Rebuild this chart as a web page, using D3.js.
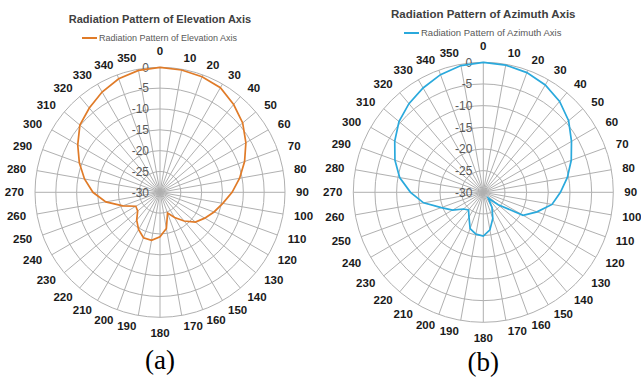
<!DOCTYPE html>
<html>
<head>
<meta charset="utf-8">
<script src="https://cdn.jsdelivr.net/npm/d3@7"></script>
<style>
  body { margin: 0; background: #fff; }
  svg { display: block; }
</style>
</head>
<body>
<div id="chart"></div>
<script>
// angle categories (degrees) and radial ticks (dB)
const angleLabels = [0, 10, 20, 30, 40, 50, 60, 70, 80, 90, 100, 110, 120, 130, 140, 150, 160, 170,
                     180, 190, 200, 210, 220, 230, 240, 250, 260, 270, 280, 290, 300, 310, 320, 330, 340, 350];
const ringTicks = [-30, -25, -20, -15, -10, -5, 0];

// one value per angle
const elevationGain = [0, -0.2, -0.5, -1.0, -2.5, -4.1, -6.2, -8.4, -10.6, -12.7, -14.7, -16.2,
                       -17.6, -18.9, -21.0, -23.0, -24.7, -21.2, -19.3, -18.3, -18.4, -19.7, -21.3, -23.0,
                       -23.3, -20.5, -16.8, -13.9, -11.6, -9.4, -7.2, -4.9, -3.6, -2.2, -1.0, -0.3];
const azimuthGain = [0, -0.2, -0.6, -1.4, -2.6, -4.3, -6.5, -8.4, -10.3, -12.2, -13.9, -16.8,
                     -19.4, -25.5, -28.2, -26.0, -23.6, -21.2, -19.9, -20.2, -21.1, -23.4, -24.7, -24.0,
                     -21.8, -19.7, -16.0, -13.2, -10.4, -8.3, -6.4, -4.6, -3.3, -2.2, -1.1, -0.3];

const width = 641, height = 378;

const svg = d3.select("#chart").append("svg")
    .attr("width", width)
    .attr("height", height);

svg.append("rect").attr("width", width).attr("height", height).attr("fill", "#fff");

function drawRadar(opts) {
    const { cx, cy, R, values, color, title, titleY, titleSize, legendX, legendY, legendSize, caption, captionY } = opts;

    const g = svg.append("g").attr("transform", `translate(${cx},${cy})`);

    const r = d3.scaleLinear().domain([-30, 0]).range([0, R]);
    const rad = d => d * Math.PI / 180;

    // rings
    g.selectAll(".ring")
        .data(ringTicks.filter(t => t > -30))
        .enter().append("circle")
        .attr("r", d => r(d))
        .attr("fill", "none")
        .attr("stroke", "#b0b0b0")
        .attr("stroke-width", 1);

    // spokes
    g.selectAll(".spoke")
        .data(angleLabels)
        .enter().append("line")
        .attr("x1", 0).attr("y1", 0)
        .attr("x2", d => Math.sin(rad(d)) * R)
        .attr("y2", d => -Math.cos(rad(d)) * R)
        .attr("stroke", "#b0b0b0")
        .attr("stroke-width", 1);

    // ring labels
    g.selectAll(".ringLabel")
        .data(ringTicks)
        .enter().append("text")
        .attr("x", -11)
        .attr("y", d => -r(d))
        .attr("dy", "0.35em")
        .attr("text-anchor", "end")
        .style("font-family", "Liberation Sans, Arial, sans-serif")
        .style("font-size", "12px")
        .style("fill", "#595959")
        .text(d => d);

    // angle labels
    const lr = R + 11;
    g.selectAll(".angleLabel")
        .data(angleLabels)
        .enter().append("text")
        .attr("x", d => Math.sin(rad(d)) * lr)
        .attr("y", d => -Math.cos(rad(d)) * lr)
        .attr("dy", d => d === 0 ? "-0.1em" : d === 180 ? "0.8em" : "0.35em")
        .attr("text-anchor", d => (d === 0 || d === 180) ? "middle" : d < 180 ? "start" : "end")
        .style("font-family", "Liberation Sans, Arial, sans-serif")
        .style("font-weight", "bold")
        .style("font-size", "11.5px")
        .style("fill", "#1a1a1a")
        .text(d => d);

    // pattern line
    const line = d3.lineRadial()
        .angle((d, i) => rad(angleLabels[i]))
        .radius(d => r(d))
        .curve(d3.curveLinearClosed);

    g.append("path")
        .datum(values)
        .attr("d", line)
        .attr("fill", "none")
        .attr("stroke", color)
        .attr("stroke-width", 1.7);

    // title
    svg.append("text")
        .attr("x", cx)
        .attr("y", titleY)
        .attr("text-anchor", "middle")
        .style("font-family", "Liberation Sans, Arial, sans-serif")
        .style("font-weight", "bold")
        .style("font-size", titleSize + "px")
        .style("fill", "#404040")
        .text(title);

    // legend
    svg.append("line")
        .attr("x1", legendX).attr("x2", legendX + 15)
        .attr("y1", legendY).attr("y2", legendY)
        .attr("stroke", color)
        .attr("stroke-width", 2);

    svg.append("text")
        .attr("x", legendX + 17)
        .attr("y", legendY)
        .attr("dy", "0.35em")
        .style("font-family", "Liberation Sans, Arial, sans-serif")
        .style("font-size", legendSize + "px")
        .style("fill", "#595959")
        .text(title);

    // caption
    svg.append("text")
        .attr("x", cx)
        .attr("y", captionY)
        .attr("text-anchor", "middle")
        .style("font-family", "Liberation Serif, Times New Roman, serif")
        .style("font-size", "27px")
        .style("fill", "#000")
        .text(caption);
}

drawRadar({
    cx: 160, cy: 192.3, R: 125,
    values: elevationGain,
    color: "#e07b28",
    title: "Radiation Pattern of Elevation Axis",
    titleY: 23, titleSize: 11,
    legendX: 82, legendY: 38, legendSize: 9,
    caption: "(a)", captionY: 369
});

drawRadar({
    cx: 483.3, cy: 192.3, R: 130,
    values: azimuthGain,
    color: "#2aa9dc",
    title: "Radiation Pattern of Azimuth Axis",
    titleY: 18, titleSize: 11.5,
    legendX: 404, legendY: 33, legendSize: 9.5,
    caption: "(b)", captionY: 371
});
</script>
</body>
</html>
